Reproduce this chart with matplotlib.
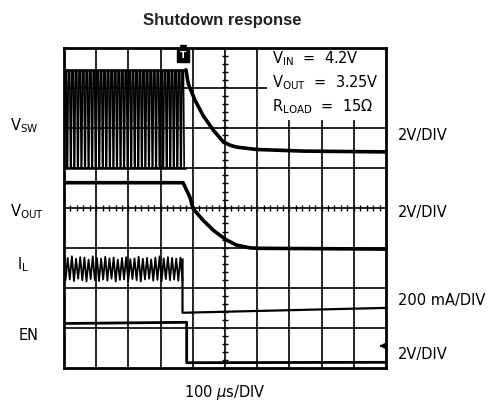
import matplotlib
matplotlib.use("Agg")
import matplotlib.pyplot as plt
from matplotlib.patches import Rectangle
import numpy as np

# scope screen: 10 x 8 divisions, values below are in divisions
# V_SW switching before shutdown
vsw_high = 7.43
vsw_low = 5.0
vsw_cycles = 34
vsw_sw_end = 3.75
# V_SW decay after shutdown
vsw_t = [3.75, 3.79, 3.82, 3.86, 4.07, 4.32, 4.64, 4.95, 5.15, 5.36, 5.99, 7.44, 10.0]
vsw_v = [7.43, 7.44, 7.27, 7.09, 6.68, 6.30, 5.93, 5.64, 5.56, 5.51, 5.45, 5.41, 5.39]

# V_OUT
vout_t = [0.0, 3.70, 3.78, 3.91, 4.01, 4.32, 4.64, 5.02, 5.36, 5.78, 6.09, 10.0]
vout_v = [4.62, 4.62, 4.48, 4.26, 3.97, 3.68, 3.43, 3.20, 3.06, 2.99, 2.98, 2.96]

# I_L ripple (peaks / valleys) then after shutdown
il_peaks = [2.74, 2.78, 2.72, 2.76, 2.75, 2.70, 2.78, 2.74, 2.72, 2.77, 2.73, 2.75, 2.70, 2.74,
            2.76, 2.71, 2.73, 2.77, 2.72, 2.74, 2.70, 2.75, 2.78, 2.73, 2.76, 2.74, 2.72, 2.75]
il_valleys = [2.20, 2.16, 2.22, 2.18, 2.15, 2.21, 2.18, 2.16, 2.20, 2.17, 2.22, 2.15, 2.19, 2.20,
              2.16, 2.21, 2.18, 2.15, 2.20, 2.22, 2.17, 2.19, 2.16, 2.21, 2.18, 2.20, 2.17, 2.19]
il_start = 0.05
il_drop = 3.68
il_after_t = [3.68, 3.68, 3.73, 10.0]
il_after_v = [2.70, 1.37, 1.37, 1.49]

# EN
en_t = [0.0, 3.81, 3.81, 10.0]
en_v = [1.10, 1.13, 0.12, 0.13]
en_marker = 0.54

trig_x = 3.69

fig = plt.figure(figsize=(5.01, 4.08), dpi=100)
ax = fig.add_axes([64 / 501, 1 - 367.5 / 408, 322 / 501, 320 / 408])
ax.set_xlim(0, 10)
ax.set_ylim(0, 8)
ax.set_xticks([])
ax.set_yticks([])
for s in ax.spines.values():
    s.set_linewidth(2)
    s.set_zorder(6)

# graticule
for gx in range(1, 10):
    ax.axvline(gx, color="black", lw=1.2, zorder=1)
for gy in range(1, 8):
    ax.axhline(gy, color="black", lw=1.2, zorder=1)
ty = np.arange(0.2, 8, 0.2)
ax.hlines(ty, 5 - 0.09, 5 + 0.09, color="black", lw=1.0, zorder=1)
tx = np.arange(0.2, 10, 0.2)
ax.vlines(tx, 4 - 0.075, 4 + 0.075, color="black", lw=1.0, zorder=1)

# info box
ax.add_patch(Rectangle((6.3, 6.18), 3.7, 1.82, facecolor="white", edgecolor="none", zorder=2))
ax.text(6.47, 7.72, r"$\mathregular{V_{IN}}$  =  4.2V", fontsize=10.5, va="center", zorder=4)
ax.text(6.47, 7.12, r"$\mathregular{V_{OUT}}$  =  3.25V", fontsize=10.5, va="center", zorder=4)
ax.text(6.47, 6.52, r"$\mathregular{R_{LOAD}}$  =  15$\mathregular{\Omega}$", fontsize=10.5, va="center", zorder=4)

# V_SW switching
p = vsw_sw_end / vsw_cycles
shape_f = [0.0, 0.22, 0.62, 0.84]
shape_v = [vsw_low, vsw_high, vsw_high, vsw_low]
sw_t, sw_v = [], []
for k in range(vsw_cycles):
    for f, v in zip(shape_f, shape_v):
        sw_t.append(k * p + f * p)
        sw_v.append(v)
ax.plot(sw_t, sw_v, color="black", lw=1.2, zorder=3)
ax.plot([0, vsw_sw_end], [vsw_high, vsw_high], color="black", lw=1.8, zorder=3)
ax.plot([0, vsw_sw_end], [vsw_low, vsw_low], color="black", lw=1.8, zorder=3)
ax.plot(vsw_t, vsw_v, color="black", lw=2.6, zorder=3, solid_capstyle="butt")

# V_OUT
ax.plot(vout_t, vout_v, color="black", lw=2.6, zorder=3)

# I_L
n = len(il_peaks)
pi = (il_drop - il_start) / n
rt, rv = [il_start], [il_valleys[0]]
for k in range(n):
    rt.append(il_start + (k + 0.5) * pi)
    rv.append(il_peaks[k])
    rt.append(il_start + (k + 1) * pi)
    rv.append(il_valleys[k])
ax.plot(rt, rv, color="black", lw=1.3, zorder=3)
ax.plot(il_after_t, il_after_v, color="black", lw=1.6, zorder=3)

# EN
ax.plot(en_t, en_v, color="black", lw=2.0, zorder=3)
ax.annotate("", xy=(9.7, en_marker), xytext=(10.0, en_marker),
            arrowprops=dict(arrowstyle="-|>", color="black", lw=1.4, mutation_scale=8), zorder=5)

# trigger marker
ax.plot([trig_x], [7.8], marker="s", ms=9, color="black", zorder=5, clip_on=False)
ax.plot([trig_x], [7.985], marker="v", ms=5, color="black", zorder=5, clip_on=False)
ax.text(trig_x, 7.79, "T", color="white", fontsize=6.5, fontweight="bold",
        ha="center", va="center", zorder=6)

# labels
fig.text(222 / 501, 1 - 20 / 408, "Shutdown response", family="Liberation Sans",
         fontweight="bold", fontsize=12, color="#222222", ha="center", va="center")
lk = dict(fontsize=10.5, ha="left", va="center")
fig.text(10 / 501, 1 - 126 / 408, r"$\mathregular{V_{SW}}$", **lk)
fig.text(10 / 501, 1 - 212 / 408, r"$\mathregular{V_{OUT}}$", **lk)
fig.text(17 / 501, 1 - 265 / 408, r"$\mathregular{I_L}$", **lk)
fig.text(19 / 501, 1 - 335 / 408, "EN", **lk)
fig.text(398 / 501, 1 - 136 / 408, "2V/DIV", **lk)
fig.text(398 / 501, 1 - 212 / 408, "2V/DIV", **lk)
fig.text(398 / 501, 1 - 301 / 408, "200 mA/DIV", **lk)
fig.text(398 / 501, 1 - 355 / 408, "2V/DIV", **lk)
fig.text(225 / 501, 1 - 392 / 408, r"100 $\mu$s/DIV", fontsize=10.5, ha="center", va="center")

fig.savefig("out.png", dpi=100)
